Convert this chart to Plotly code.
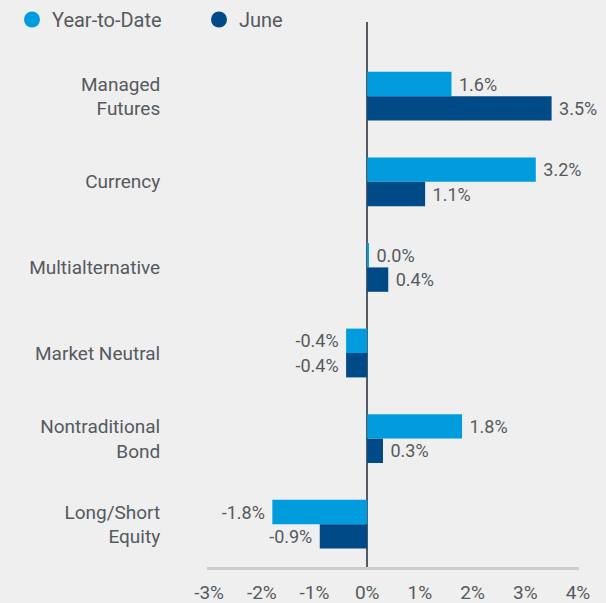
import plotly.graph_objects as go

categories = ["Managed<br>Futures", "Currency", "Multialternative", "Market Neutral",
              "Nontraditional<br>Bond", "Long/Short<br>Equity"]
ytd = [1.6, 3.2, 0.03, -0.4, 1.8, -1.8]
june = [3.5, 1.1, 0.4, -0.4, 0.3, -0.9]
tick_vals = [-3, -2, -1, 0, 1, 2, 3, 4]
tick_text = ["-3%", "-2%", "-1%", "0%", "1%", "2%", "3%", "4%"]

ytd_color = "#009cde"
june_color = "#004a87"
text_color = "#555a60"
bg = "#efefef"
font = "Roboto"


def label(v):
    # small gap between bar end and its label
    s = "{:.1f}%".format(v)
    return s + "\u00a0" if v < 0 else "\u00a0" + s


fig = go.Figure()
fig.add_trace(go.Bar(y=categories, x=ytd, orientation="h", name="Year-to-Date",
                     marker=dict(color=ytd_color, line=dict(width=0)),
                     text=[label(v) for v in ytd], textposition="outside",
                     textfont=dict(color=text_color, size=18, family=font),
                     cliponaxis=False, showlegend=False))
fig.add_trace(go.Bar(y=categories, x=june, orientation="h", name="June",
                     marker=dict(color=june_color, line=dict(width=0)),
                     text=[label(v) for v in june], textposition="outside",
                     textfont=dict(color=text_color, size=18, family=font),
                     cliponaxis=False, showlegend=False))

# legend entries as circles
fig.add_trace(go.Scatter(x=[None], y=[None], mode="markers", name="Year-to-Date",
                         marker=dict(color=ytd_color, size=16, symbol="circle")))
fig.add_trace(go.Scatter(x=[None], y=[None], mode="markers", name="June",
                         marker=dict(color=june_color, size=16, symbol="circle")))

fig.update_layout(
    width=606, height=603,
    paper_bgcolor=bg, plot_bgcolor=bg,
    margin=dict(l=207, r=27, t=22, b=36, autoexpand=False),
    barmode="group", bargap=0.43, bargroupgap=0,
    font=dict(family=font, size=19, color=text_color),
    legend=dict(orientation="h", xref="container", yref="container",
                x=12 / 606, y=1.0, xanchor="left", yanchor="top",
                entrywidth=142, entrywidthmode="pixels",
                font=dict(size=20, family=font, color=text_color),
                bgcolor="rgba(0,0,0,0)"),
)
fig.update_xaxes(range=[-3.04, 4.02], tickvals=tick_vals, ticktext=tick_text,
                 showgrid=False, zeroline=True, zerolinecolor="#555a60", zerolinewidth=2,
                 showline=True, linecolor="#cccccc", linewidth=3,
                 ticks="outside", ticklen=6, tickcolor="rgba(0,0,0,0)",
                 tickfont=dict(size=19, family=font, color=text_color), fixedrange=True)
fig.update_yaxes(type="category", categoryorder="array", categoryarray=categories,
                 range=[5.5, -0.867], showgrid=False, zeroline=False, showline=False,
                 ticks="outside", ticklen=42, tickcolor="rgba(0,0,0,0)",
                 tickfont=dict(size=19, family=font, color=text_color), fixedrange=True)

fig.write_html("out.html", config={"displayModeBar": False},
               post_script="document.body.style.margin='0';")
